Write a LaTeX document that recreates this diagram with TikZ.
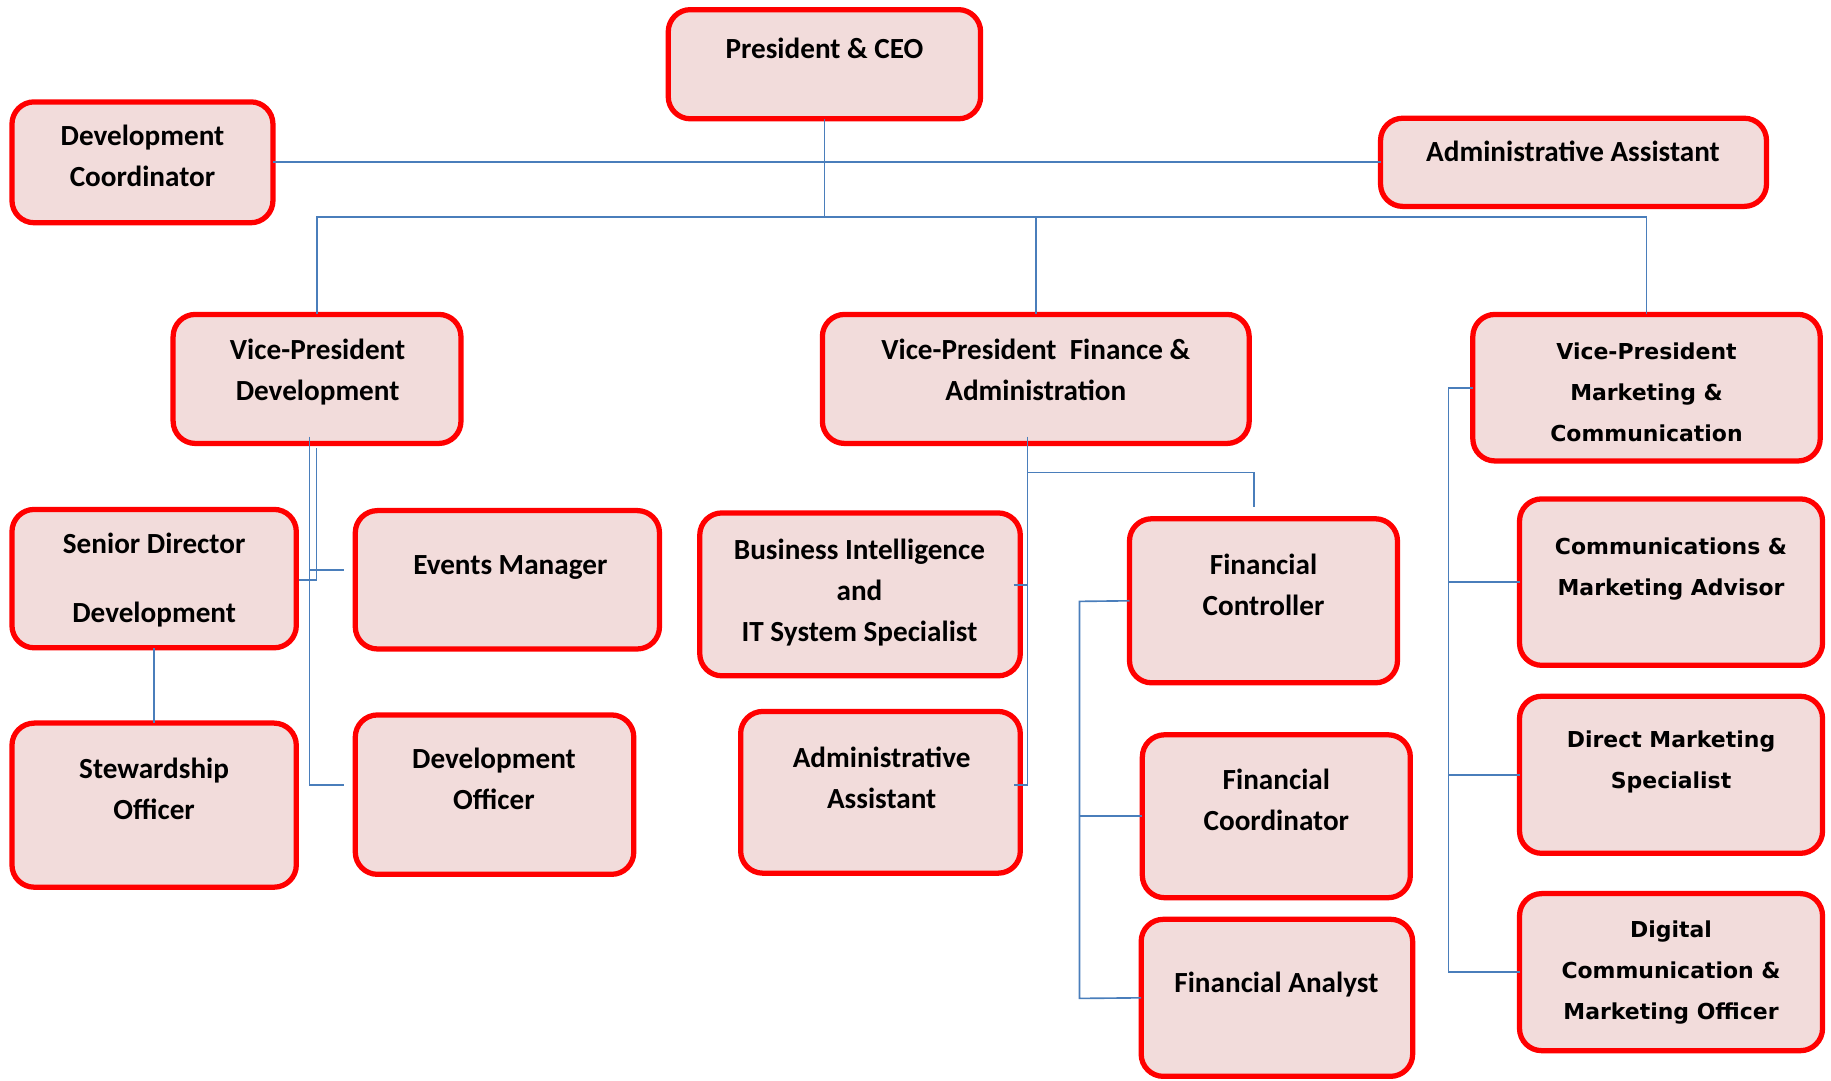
\documentclass[tikz,border=0pt]{standalone}
\usepackage{fontspec}
\setmainfont{Carlito}
\newfontfamily\widefont{DejaVu Sans}
\definecolor{boxfill}{HTML}{F2DCDB}
\definecolor{conncol}{HTML}{4A7EBB}
\tikzset{
  obox/.style={draw=red, line width=4.5pt, fill=boxfill, rounded corners=19pt, inner sep=0pt, outer sep=0pt},
  conn/.style={draw=conncol, line width=1.4pt},
  lbl/.style={align=center, anchor=base, inner sep=0pt, font=\bfseries\fontsize{25}{35}\selectfont},
  lblw/.style={align=center, anchor=base, inner sep=0pt, font=\widefont\bfseries\fontsize{18.8}{35}\selectfont}
}
\newcommand\OB[5]{\node[obox, minimum width={(#4-#2-4.5)*1pt}, minimum height={(#5-#3-4.5)*1pt}] (#1) at ({(#2+#4)/2},{(#3+#5)/2}) {};}
\begin{document}
\begin{tikzpicture}[x=1pt,y=-1pt]
\useasboundingbox (0,0) rectangle (1568,925);
% boxes
\OB{pres}{570}{6}{842}{104}
\OB{devc}{8}{85}{236}{193}
\OB{adma}{1180}{99}{1515}{179}
\OB{vpdev}{146}{267}{397}{382}
\OB{vpfin}{702}{267}{1072}{382}
\OB{vpmkt}{1259}{267}{1561}{397}
\OB{sd}{8}{434}{256}{557}
\OB{ev}{302}{435}{567}{558}
\OB{stew}{8}{617}{256}{762}
\OB{devo}{302}{610}{545}{751}
\OB{bi}{597}{437}{876}{581}
\OB{admb}{632}{607}{876}{750}
\OB{fc}{965}{442}{1199}{587}
\OB{fco}{976}{627}{1210}{771}
\OB{fa}{975}{785}{1212}{924}
\OB{cma}{1299}{425}{1563}{572}
\OB{dms}{1299}{594}{1563}{733}
\OB{dig}{1299}{763}{1563}{902}
% connectors
\coordinate (jA) at (706,186);
\draw[conn] (pres.south) -- (jA) -| (vpdev.north);
\draw[conn] (jA) -| (vpfin.north);
\draw[conn] (jA) -| (vpmkt.north);
\draw[conn] (devc.east) -- (adma.west);
% VP development
\coordinate (dA) at (265,374);
\coordinate (dB) at (265,672);
\coordinate (dC) at (294.5,672);
\coordinate (dD) at (265,488);
\coordinate (dE) at (294.5,488);
\coordinate (dF) at (271,384);
\coordinate (dG) at (271,496.5);
\coordinate (dH) at (256,496.5);
\draw[conn] (dA) -- (dB) -- (dC);
\draw[conn] (dD) -- (dE);
\draw[conn] (dF) -- (dG) -- (dH);
\draw[conn] (sd.south) -- (stew.north);
% VP finance
\coordinate (fA) at (880,374);
\coordinate (fB) at (880,672);
\coordinate (fC) at (868,672);
\coordinate (fD) at (868,501);
\coordinate (fE) at (880,501);
\coordinate (fF) at (880,404.7);
\coordinate (fG) at (1074,404.7);
\coordinate (fH) at (1074,434.6);
\coordinate (fI) at (924.4,515);
\coordinate (fJ) at (924.4,855);
\draw[conn] (fA) -- (fB) -- (fC);
\draw[conn] (fD) -- (fE);
\draw[conn] (fF) -- (fG) -- (fH);
\draw[conn] (fc.west) -- (fI) -- (fJ) -- (fa.west);
\draw[conn] (fI |- fco.west) -- (fco.west);
% VP marketing
\coordinate (mA) at (1240.3,332);
\coordinate (mB) at (1240.3,832.5);
\draw[conn] (vpmkt.west) -- (mA) -- (mB) -- (dig.west);
\draw[conn] (mA |- cma.west) -- (cma.west);
\draw[conn] (mA |- dms.west) -- (dms.west);
% labels (anchor = baseline of the last line)
\node[lbl] (tpres) at (706,50) {President \& CEO};
\node[lbl] (tdevc) at (122,160) {Development\\Coordinator};
\node[lbl] (tadma) at (1347,138) {Administrative Assistant};
\node[lbl] (tvpdev) at (272,343) {Vice-President\\Development};
\node[lbl] (tvpfin) at (887,343) {Vice-President\ \ Finance \&\\Administration};
\node[lblw] (tvpmkt) at (1410,378) {Vice-President\\Marketing \&\\Communication};
\node[lbl] (tsd) at (132,533) {Senior Director\\[24pt]Development};
\node[lbl] (tev) at (437,492) {Events Manager};
\node[lbl] (tstew) at (132,702) {Stewardship\\Officer};
\node[lbl] (tdevo) at (423,693) {Development\\Officer};
\node[lbl] (tbi) at (736,549) {Business Intelligence\\and\\IT System Specialist};
\node[lbl] (tadmb) at (755,692) {Administrative\\Assistant};
\node[lbl] (tfc) at (1082,527) {Financial\\Controller};
\node[lbl] (tfco) at (1093,711) {Financial\\Coordinator};
\node[lbl] (tfa) at (1093,850) {Financial Analyst};
\node[lblw] (tcma) at (1431,510) {Communications \&\\Marketing Advisor};
\node[lblw] (tdms) at (1431,675) {Direct Marketing\\Specialist};
\node[lblw] (tdig) at (1431,873) {Digital\\Communication \&\\Marketing Officer};
\end{tikzpicture}
\end{document}
